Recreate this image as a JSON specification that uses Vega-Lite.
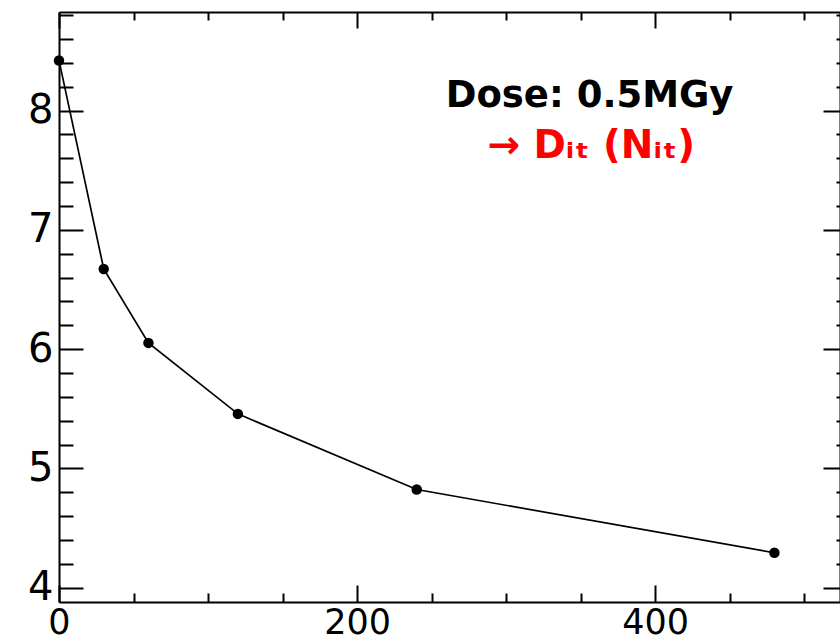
{
  "$schema": "https://vega.github.io/schema/vega-lite/v6.json",
  "width": 781,
  "height": 590,
  "autosize": "none",
  "padding": {"left": 59, "top": 12, "right": 0, "bottom": 40},
  "background": "white",
  "config": {
    "view": {"stroke": null},
    "axis": {"grid": false, "domainColor": "black", "tickColor": "black", "labelColor": "black", "labelFont": "DejaVu Sans", "domainWidth": 2, "tickWidth": 2, "title": null, "labelFlush": false, "labelOverlap": false}
  },
  "data": {"values": [
    {"t": 0, "v": 8.42},
    {"t": 30, "v": 6.672},
    {"t": 60, "v": 6.052},
    {"t": 120, "v": 5.457},
    {"t": 240, "v": 4.823},
    {"t": 480, "v": 4.293}
  ]},
  "layer": [
    {
      "mark": {"type": "line", "color": "black", "strokeWidth": 1.7},
      "encoding": {
        "x": {"field": "t", "type": "quantitative", "scale": {"domain": [0, 524], "nice": false, "zero": false},
              "axis": {"orient": "bottom", "values": [0, 200, 400], "tickSize": -17, "labelPadding": 20, "labelFontSize": 35, "domain": true}},
        "y": {"field": "v", "type": "quantitative", "scale": {"domain": [3.88, 8.826], "nice": false, "zero": false},
              "axis": {"orient": "left", "values": [4, 5, 6, 7, 8], "tickSize": -24, "labelPadding": 30, "labelFontSize": 40, "domain": true}}
      }
    },
    {
      "mark": {"type": "point", "shape": "circle", "filled": true, "color": "black", "size": 110, "opacity": 1},
      "encoding": {
        "x": {"field": "t", "type": "quantitative",
              "axis": {"orient": "bottom", "values": [50, 100, 150, 250, 300, 350, 450, 500], "tickSize": -9, "labels": false, "domain": false}},
        "y": {"field": "v", "type": "quantitative",
              "axis": {"orient": "left", "values": [4.2, 4.4, 4.6, 4.8, 5.2, 5.4, 5.6, 5.8, 6.2, 6.4, 6.6, 6.8, 7.2, 7.4, 7.6, 7.8, 8.2, 8.4, 8.6, 8.8], "tickSize": -14, "labels": false, "domain": false}}
      }
    },
    {
      "mark": {"type": "point", "opacity": 0},
      "encoding": {
        "x": {"field": "t", "type": "quantitative",
              "axis": {"orient": "top", "values": [0, 200, 400], "tickSize": -16, "labels": false, "domain": true}},
        "y": {"field": "v", "type": "quantitative",
              "axis": {"orient": "right", "values": [4, 5, 6, 7, 8], "tickSize": -17, "labels": false, "domain": true}}
      }
    },
    {
      "mark": {"type": "point", "opacity": 0},
      "encoding": {
        "x": {"field": "t", "type": "quantitative",
              "axis": {"orient": "top", "values": [50, 100, 150, 250, 300, 350, 450, 500], "tickSize": -8, "labels": false, "domain": false}},
        "y": {"field": "v", "type": "quantitative",
              "axis": {"orient": "right", "values": [4.2, 4.4, 4.6, 4.8, 5.2, 5.4, 5.6, 5.8, 6.2, 6.4, 6.6, 6.8, 7.2, 7.4, 7.6, 7.8, 8.2, 8.4, 8.6, 8.8], "tickSize": -4, "labels": false, "domain": false}}
      }
    },
    {
      "data": {"values": [{"t": 356, "v": 8.03, "label": "Dose: 0.5MGy"}]},
      "mark": {"type": "text", "font": "DejaVu Sans", "fontSize": 37, "fontWeight": "bold", "color": "black", "align": "center", "baseline": "alphabetic"},
      "encoding": {
        "x": {"field": "t", "type": "quantitative", "axis": null},
        "y": {"field": "v", "type": "quantitative", "axis": null},
        "text": {"field": "label"}
      }
    },
    {
      "data": {"values": [{"t": 357, "v": 7.6, "label": "→ Dᵢₜ (Nᵢₜ)"}]},
      "mark": {"type": "text", "font": "DejaVu Sans", "fontSize": 39, "fontWeight": "bold", "color": "#ff0000", "align": "center", "baseline": "alphabetic"},
      "encoding": {
        "x": {"field": "t", "type": "quantitative", "axis": null},
        "y": {"field": "v", "type": "quantitative", "axis": null},
        "text": {"field": "label"}
      }
    }
  ],
  "resolve": {"axis": {"x": "independent", "y": "independent"}}
}
